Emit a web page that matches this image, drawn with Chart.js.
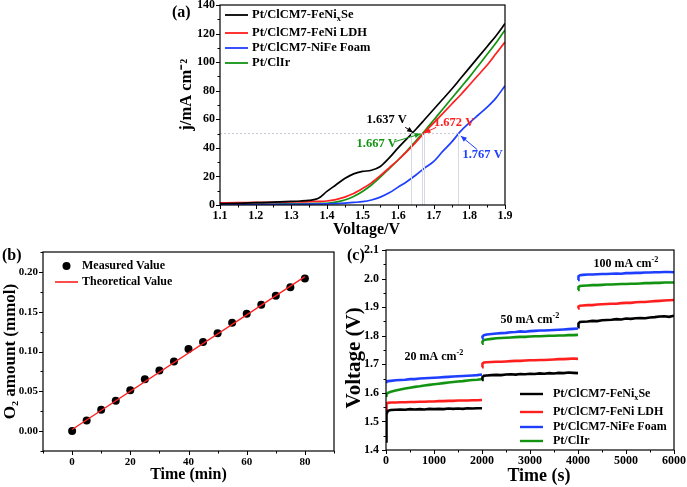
<!DOCTYPE html>
<html><head><meta charset="utf-8">
<script src="https://cdn.jsdelivr.net/npm/chart.js@4.4.1/dist/chart.umd.min.js"></script>
<style>
html,body{margin:0;padding:0;background:#fff;width:687px;height:487px;overflow:hidden;position:relative;}
canvas{position:absolute;}
.pl{position:absolute;font:bold 16px 'Liberation Serif','Times New Roman',serif;line-height:16px;color:#000;}
</style></head><body>
<canvas id="ca" width="370" height="245" style="left:150px;top:0px;width:370px;height:245px"></canvas>
<canvas id="cb" width="345" height="247" style="left:0px;top:240px;width:345px;height:247px"></canvas>
<canvas id="cc" width="347" height="247" style="left:340px;top:240px;width:347px;height:247px"></canvas>
<div class="pl" style="left:172px;top:4px">(a)</div>
<div class="pl" style="left:2px;top:247px">(b)</div>
<div class="pl" style="left:347px;top:247px">(c)</div>
<script>
const FONT = "'Liberation Serif','Times New Roman',serif";

// ---------- (a) LSV curves ----------
const aVoltage  = [1.10,1.15,1.20,1.25,1.30,1.325,1.35,1.375,1.40,1.425,1.45,1.475,1.50,1.525,1.55,1.575,1.60,1.625,1.65,1.675,1.70,1.725,1.75,1.775,1.80,1.825,1.85,1.875,1.90];
const aFeNixSe  = [1.0,1.2,1.6,2.0,2.5,2.8,3.3,4.5,9.5,14.0,18.5,21.8,23.5,24.3,27.0,33.0,40.0,46.5,53.0,60.0,67.0,74.0,81.0,88.5,96.0,103.5,111.0,118.5,127.0];
const aFeNiLDH  = [1.5,1.6,1.8,1.9,2.1,2.2,2.3,2.5,2.8,3.8,5.5,8.0,11.5,15.5,20.5,26.0,31.5,37.5,44.0,51.0,57.5,64.0,70.5,77.0,84.0,91.0,98.0,106.0,114.0];
const aNiFeFoam = [0.3,0.3,0.4,0.4,0.5,0.5,0.6,0.7,0.8,1.0,1.3,1.8,2.3,3.5,5.5,8.5,12.5,16.5,21.0,26.0,30.5,37.5,44.0,51.5,57.5,63.0,68.5,75.0,83.5];
const aIr       = [0.5,0.5,0.6,0.7,0.8,0.9,1.0,1.1,1.2,2.0,3.5,6.0,9.5,14.0,19.5,25.5,31.5,38.0,45.0,52.0,59.5,67.0,74.5,82.0,89.5,97.5,105.5,113.5,122.5];
const seriesLabels = ['Pt/ClCM7-FeNiₓSe','Pt/ClCM7-FeNi LDH','Pt/ClCM7-NiFe Foam','Pt/ClIr'];
const aXTicks = [1.1,1.2,1.3,1.4,1.5,1.6,1.7,1.8,1.9];
const aYTicks = [0,20,40,60,80,100,120,140];
const aMarkJ = 50;
const aMarkV = [1.637,1.667,1.672,1.767];          // black, green, red, blue
const aMarkText = ['1.637 V','1.667 V','1.672 V','1.767 V'];

// ---------- (b) O2 amount ----------
const bTime     = [0,5,10,15,20,25,30,35,40,45,50,55,60,65,70,75,80];
const bMeasured = [0.000,0.0134,0.0267,0.038,0.0514,0.0651,0.076,0.0873,0.1031,0.1119,0.1228,0.1361,0.1474,0.1587,0.170,0.1808,0.1917];
const bTheoTime = [0,80];
const bTheo     = [0.002,0.194];
const bLabels   = ['Measured Value','Theoretical Value'];
const bXTicks = [0,20,40,60,80];
const bYTicks = [0,0.05,0.10,0.15,0.20];

// ---------- (c) chronopotentiometry ----------
const cTime = [0,10,40,100,200,300,400,500,600,700,800,900,1000,1100,1200,1300,1400,1500,1600,1700,1800,1900,2000,
  2000,
  2000,2010,2040,2100,2200,2300,2400,2500,2600,2700,2800,2900,3000,3100,3200,3300,3400,3500,3600,3700,3800,3900,4000,
  4000,
  4000,4010,4040,4100,4200,4300,4400,4500,4600,4700,4800,4900,5000,5100,5200,5300,5400,5500,5600,5700,5800,5900,6000];
const cFeNixSe = [1.430,1.525,1.537,1.540,1.541,1.542,1.541,1.543,1.542,1.543,1.542,1.544,1.543,1.544,1.543,1.545,1.544,1.545,1.544,1.546,1.545,1.546,1.546,
  null,
  1.645,1.655,1.660,1.661,1.662,1.663,1.662,1.664,1.665,1.664,1.666,1.665,1.667,1.666,1.668,1.667,1.669,1.668,1.670,1.669,1.671,1.670,1.669,
  null,
  1.830,1.843,1.848,1.849,1.850,1.852,1.851,1.854,1.855,1.856,1.858,1.857,1.860,1.859,1.861,1.862,1.861,1.864,1.865,1.867,1.868,1.866,1.870];
const cFeNiLDH = [1.530,1.562,1.565,1.566,1.566,1.567,1.567,1.568,1.568,1.569,1.569,1.570,1.570,1.571,1.571,1.572,1.572,1.573,1.573,1.573,1.574,1.574,1.575,
  null,
  1.690,1.702,1.706,1.707,1.708,1.709,1.709,1.710,1.711,1.712,1.712,1.713,1.714,1.714,1.715,1.715,1.716,1.717,1.718,1.718,1.719,1.720,1.719,
  null,
  1.895,1.902,1.905,1.906,1.907,1.907,1.909,1.910,1.911,1.912,1.912,1.914,1.915,1.915,1.917,1.918,1.918,1.920,1.921,1.922,1.923,1.924,1.925];
const cNiFeFoam = [1.638,1.640,1.641,1.642,1.644,1.645,1.646,1.648,1.648,1.650,1.651,1.652,1.653,1.654,1.655,1.656,1.657,1.658,1.659,1.660,1.661,1.662,1.664,
  null,
  1.790,1.797,1.802,1.804,1.806,1.808,1.809,1.810,1.812,1.813,1.815,1.814,1.816,1.817,1.818,1.818,1.819,1.820,1.821,1.822,1.823,1.824,1.825,
  null,
  1.995,2.008,2.012,2.013,2.014,2.014,2.015,2.016,2.016,2.017,2.018,2.017,2.019,2.019,2.020,2.020,2.021,2.021,2.022,2.022,2.023,2.023,2.022];
const cIr = [1.590,1.595,1.600,1.604,1.608,1.612,1.615,1.618,1.621,1.623,1.626,1.628,1.630,1.632,1.634,1.636,1.638,1.640,1.641,1.643,1.645,1.646,1.648,
  null,
  1.772,1.780,1.785,1.787,1.789,1.791,1.792,1.793,1.794,1.795,1.796,1.796,1.797,1.798,1.798,1.799,1.800,1.800,1.801,1.801,1.802,1.802,1.803,
  null,
  1.960,1.970,1.974,1.975,1.976,1.977,1.977,1.978,1.979,1.979,1.980,1.981,1.981,1.982,1.982,1.983,1.984,1.984,1.985,1.985,1.986,1.986,1.986];
const cCurrentTime = [1000,3000,5000];
const cCurrentText = ['20 mA cm⁻²','50 mA cm⁻²','100 mA cm⁻²'];
const cXTicks = [0,1000,2000,3000,4000,5000,6000];
const cYTicks = [1.4,1.5,1.6,1.7,1.8,1.9,2.0,2.1];

// ---------- styles ----------
const COL = {black:'#000000', red:'#ff1f1f', blue:'#1f3fff', green:'#129412', mark:'#c4c8d4'};

const SUP = {'⁻':'-','²':'2'};
const SUB = {'ₓ':'x','₂':'2'};
function drawRich(ctx, str, x, y, size, color, align){
  const runs = [];
  for (const ch of str){
    const type = SUP[ch]!==undefined ? 'sup' : (SUB[ch]!==undefined ? 'sub' : 'n');
    const c = type==='sup' ? SUP[ch] : (type==='sub' ? SUB[ch] : ch);
    if (runs.length && runs[runs.length-1].type===type) runs[runs.length-1].t += c;
    else runs.push({type, t:c});
  }
  const f = s => `bold ${s}px ${FONT}`;
  let w = 0;
  for (const r of runs){ ctx.font = f(r.type==='n'?size:size*0.68); r.w = ctx.measureText(r.t).width; w += r.w; }
  let cx = align==='center' ? x-w/2 : (align==='right' ? x-w : x);
  ctx.textBaseline = 'middle'; ctx.textAlign = 'left'; ctx.fillStyle = color;
  for (const r of runs){
    ctx.font = f(r.type==='n'?size:size*0.68);
    const dy = r.type==='sup' ? -size*0.36 : (r.type==='sub' ? size*0.3 : 0);
    ctx.fillText(r.t, cx, y+dy);
    cx += r.w;
  }
}
function arrow(ctx, x0, y0, x1, y1, color){
  ctx.strokeStyle = color; ctx.fillStyle = color; ctx.lineWidth = 1; ctx.setLineDash([]);
  ctx.beginPath(); ctx.moveTo(x0,y0); ctx.lineTo(x1,y1); ctx.stroke();
  const ang = Math.atan2(y1-y0, x1-x0), L = 6, W = 2.6;
  ctx.beginPath();
  ctx.moveTo(x1,y1);
  ctx.lineTo(x1 - L*Math.cos(ang) + W*Math.sin(ang), y1 - L*Math.sin(ang) - W*Math.cos(ang));
  ctx.lineTo(x1 - L*Math.cos(ang) - W*Math.sin(ang), y1 - L*Math.sin(ang) + W*Math.cos(ang));
  ctx.closePath(); ctx.fill();
}

function drawTicks(ctx, a, scale, horiz, minorStep){
  const majors = scale.ticks.map(t=>t.value);
  ctx.beginPath();
  const mark = (v,len)=>{
    const p = Math.round(scale.getPixelForValue(v))+0.5;
    if (horiz){ ctx.moveTo(p,a.bottom); ctx.lineTo(p,a.bottom+len); }
    else { ctx.moveTo(a.left,p); ctx.lineTo(a.left-len,p); }
  };
  majors.forEach(v=>mark(v,4));
  if (minorStep){
    const k0 = Math.ceil(scale.min/minorStep-1e-6), k1 = Math.floor(scale.max/minorStep+1e-6);
    for (let k=k0;k<=k1;k++){
      const v = k*minorStep;
      if (majors.some(m=>Math.abs(m-v)<minorStep*0.01)) continue;
      mark(v,2.5);
    }
  }
  ctx.stroke();
}

// per-chart decoration settings (kept outside Chart.js options so functions are not treated as scriptable)
const DECOR = {};
const decor = {
  id:'decor',
  afterDatasetsDraw(chart){
    const o = DECOR[chart.canvas.id]; if (!o) return;
    const ctx = chart.ctx, a = chart.chartArea, xs = chart.scales.x, ys = chart.scales.y;
    ctx.save();
    if (o.extra) o.extra(chart, ctx, xs, ys);
    if (o.legend){
      const L = o.legend;
      chart.data.datasets.forEach((ds,i)=>{
        const y = a.top + L.rows[i], x0 = a.left + L.x;
        if (ds.showLine===false){
          ctx.fillStyle = ds.pointBackgroundColor;
          ctx.beginPath(); ctx.arc(x0+L.len/2, y, ds.pointRadius, 0, Math.PI*2); ctx.fill();
        } else {
          ctx.strokeStyle = ds.borderColor; ctx.lineWidth = L.lw; ctx.setLineDash([]);
          ctx.beginPath(); ctx.moveTo(x0,y); ctx.lineTo(x0+L.len,y); ctx.stroke();
        }
        drawRich(ctx, ds.label, x0+L.len+L.gap, y, L.size, '#000', 'left');
      });
    }
    ctx.strokeStyle = '#000'; ctx.setLineDash([]); ctx.lineWidth = 1.2;
    ctx.strokeRect(a.left, a.top, a.right-a.left, a.bottom-a.top);
    ctx.lineWidth = 1;
    drawTicks(ctx, a, xs, true, o.minorX);
    drawTicks(ctx, a, ys, false, o.minorY);
    ctx.restore();
  }
};
Chart.register(decor);
Chart.defaults.font.family = FONT;
Chart.defaults.font.weight = 'bold';
Chart.defaults.color = '#000';

function axis(tickList, fmt, tickSize, tickPad, title, titleSize, titlePad, fixed, horiz){
  return {
    type:'linear',
    min: fixed.min, max: fixed.max,
    grid:{display:false, drawTicks:false},
    border:{display:false},
    afterBuildTicks: s => { s.ticks = tickList.map(v=>({value:v})); },
    afterFit: s => {
      if (horiz){ s.height = fixed.size; s.paddingLeft = 0; s.paddingRight = 0; }
      else { s.width = fixed.size; s.paddingTop = 0; s.paddingBottom = 0; }
    },
    ticks:{ font:{size:tickSize, weight:'bold', family:FONT}, color:'#000', padding:tickPad, maxRotation:0, autoSkip:false,
      callback: v => fmt(v) },
    title:{ display:true, text:title, font:{size:titleSize, weight:'bold', family:FONT}, color:'#000', padding:titlePad }
  };
}
const xy = (xsArr, ysArr) => xsArr.map((x,i)=>({x, y:ysArr[i]}));
const base = { responsive:false, animation:false, devicePixelRatio:1, events:[] };

// ---------- chart (a) ----------
const aNotes = [
  {tx:1.568, ty:59.5, from:[1.620,54.4], to:[1.642,50.8], color:COL.black},
  {tx:1.540, ty:43.0, from:[1.592,44.4], to:[1.663,49.8], color:COL.green},
  {tx:1.757, ty:57.4, from:[1.707,54.4], to:[1.674,50.4], color:COL.red},
  {tx:1.837, ty:35.5, from:[1.822,38.8], to:[1.776,48.3], color:COL.blue}
];
DECOR.ca = { minorX:0.05, minorY:10,
  legend:{x:5, len:23, gap:4, lw:1.8, size:12.5, rows:[10,28,43,58]},
  extra:(chart, ctx, xs, ys)=>{
    const yJ = ys.getPixelForValue(aMarkJ), y0 = ys.getPixelForValue(0);
    ctx.strokeStyle = COL.mark; ctx.lineWidth = 1; ctx.setLineDash([2,2]);
    ctx.beginPath();
    ctx.moveTo(xs.getPixelForValue(1.1), yJ); ctx.lineTo(xs.getPixelForValue(Math.max(...aMarkV)), yJ);
    ctx.stroke();
    ctx.setLineDash([]); ctx.strokeStyle = '#d6d9e2';
    ctx.beginPath();
    aMarkV.forEach(v=>{ const p = Math.round(xs.getPixelForValue(v))+0.5; ctx.moveTo(p, y0); ctx.lineTo(p, yJ); });
    ctx.stroke();
    aNotes.forEach((n,i)=>{
      arrow(ctx, xs.getPixelForValue(n.from[0]), ys.getPixelForValue(n.from[1]),
                 xs.getPixelForValue(n.to[0]), ys.getPixelForValue(n.to[1]), n.color);
      drawRich(ctx, aMarkText[i], xs.getPixelForValue(n.tx), ys.getPixelForValue(n.ty), 12.5, n.color, 'center');
    });
  }
};
new Chart(document.getElementById('ca'), {
  type:'line',
  data:{ datasets:[
    {label:seriesLabels[0], data:xy(aVoltage,aFeNixSe), borderColor:COL.black},
    {label:seriesLabels[1], data:xy(aVoltage,aFeNiLDH), borderColor:COL.red},
    {label:seriesLabels[2], data:xy(aVoltage,aNiFeFoam), borderColor:COL.blue},
    {label:seriesLabels[3], data:xy(aVoltage,aIr), borderColor:COL.green}
  ].map(d=>Object.assign(d,{borderWidth:1.7, pointRadius:0, cubicInterpolationMode:'monotone', fill:false}))},
  options:Object.assign({}, base, {
    layout:{padding:{left:0, top:5, right:15, bottom:0}},
    scales:{
      x: axis(aXTicks, v=>v.toFixed(1), 12, 4, '  Voltage/V', 16, {top:0,bottom:5.4}, {min:1.1,max:1.9,size:40}, true),
      y: axis(aYTicks, v=>String(v), 12, 5, '     j/mA cm⁻²', 16.5, {top:27,bottom:0}, {min:0,max:140,size:70}, false)
    },
    plugins:{ legend:{display:false}, tooltip:{enabled:false} }
  })
});

// ---------- chart (b) ----------
DECOR.cb = { minorX:10, minorY:0.025, legend:{x:12, len:23, gap:4, lw:1.6, size:12, rows:[14,30]} };
new Chart(document.getElementById('cb'), {
  type:'line',
  data:{ datasets:[
    {label:bLabels[0], data:xy(bTime,bMeasured), showLine:false, pointRadius:4, pointBackgroundColor:'#000', pointBorderColor:'#000', pointBorderWidth:0, order:1},
    {label:bLabels[1], data:xy(bTheoTime,bTheo), borderColor:COL.red, borderWidth:1.4, pointRadius:0, order:0}
  ]},
  options:Object.assign({}, base, {
    layout:{padding:{left:0, top:12, right:11, bottom:0}},
    scales:{
      x: axis(bXTicks, v=>String(v), 11, 5, 'Time (min)', 16, {top:0,bottom:2.4}, {min:-10,max:90,size:36}, true),
      y: axis(bYTicks, v=>v.toFixed(2), 11, 5, 'O₂ amount (mmol)', 17, {top:0,bottom:0}, {min:-0.025,max:0.225,size:43}, false)
    },
    plugins:{ legend:{display:false}, tooltip:{enabled:false} }
  })
});

// ---------- chart (c) ----------
DECOR.cc = { minorX:500, minorY:0.05,
  legend:{x:134, len:23, gap:10, lw:2.4, size:12, rows:[144,162,177,191]},
  extra:(chart, ctx, xs, ys)=>{
    const cLabelV = [1.726, 1.855, 2.050];
    cCurrentText.forEach((t,i)=>drawRich(ctx, t, xs.getPixelForValue(cCurrentTime[i]), ys.getPixelForValue(cLabelV[i]), 12, '#000', 'center'));
  }
};
new Chart(document.getElementById('cc'), {
  type:'line',
  data:{ datasets:[
    {label:seriesLabels[0], data:xy(cTime,cFeNixSe), borderColor:COL.black},
    {label:seriesLabels[1], data:xy(cTime,cFeNiLDH), borderColor:COL.red},
    {label:seriesLabels[2], data:xy(cTime,cNiFeFoam), borderColor:COL.blue},
    {label:seriesLabels[3], data:xy(cTime,cIr), borderColor:COL.green}
  ].map(d=>Object.assign(d,{borderWidth:2.6, pointRadius:0, tension:0, spanGaps:false, fill:false}))},
  options:Object.assign({}, base, {
    layout:{padding:{left:0, top:10, right:13, bottom:0}},
    scales:{
      x: axis(cXTicks, v=>String(v), 12, 4, '    Time (s)', 18, {top:0,bottom:0}, {min:0,max:6000,size:37}, true),
      y: axis(cYTicks, v=>v.toFixed(1), 12, 7, 'Voltage (V)   ', 21, {top:2.4,bottom:0}, {min:1.4,max:2.1,size:46}, false)
    },
    plugins:{ legend:{display:false}, tooltip:{enabled:false} }
  })
});
</script>
</body></html>
